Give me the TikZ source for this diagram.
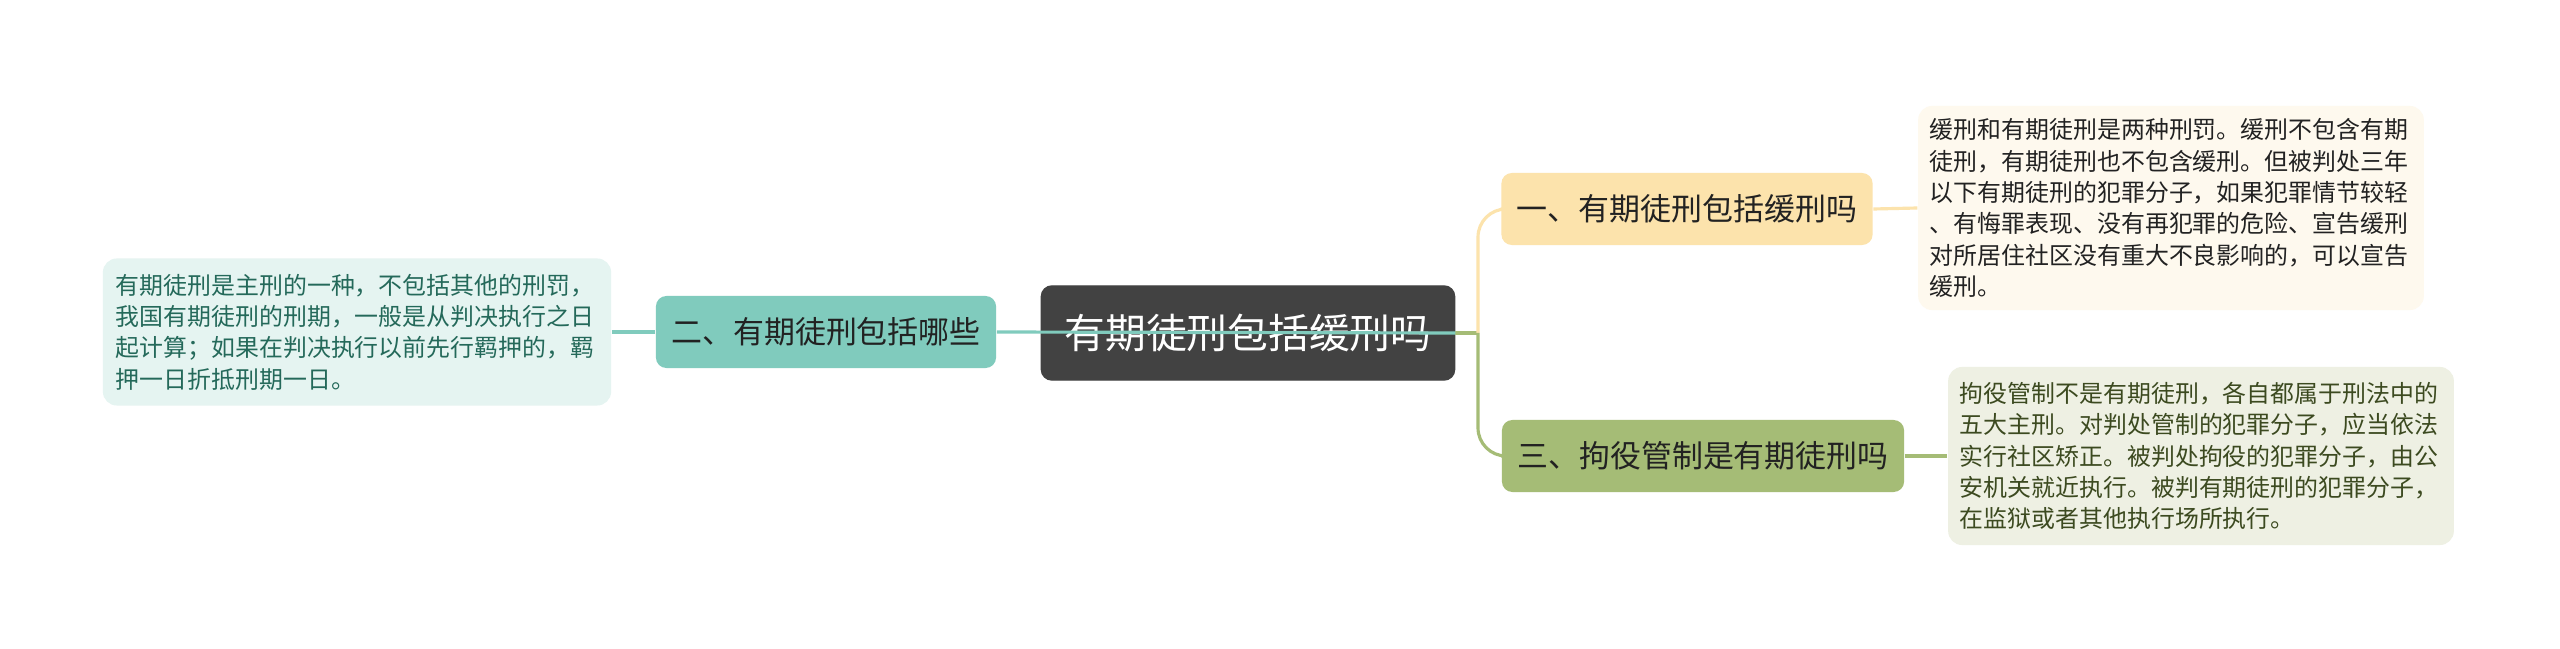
\documentclass[tikz,border=0pt]{standalone}
\usepackage{fontspec}
\setmainfont{Noto Sans CJK SC}
\usetikzlibrary{positioning}
\definecolor{rootgray}{RGB}{66, 66, 66}
\definecolor{tealline}{RGB}{128, 203, 189}
\definecolor{tealleaf}{RGB}{229, 244, 241}
\definecolor{tealtext}{RGB}{36, 105, 90}
\definecolor{yellowline}{RGB}{252, 227, 172}
\definecolor{yellowleaf}{RGB}{254, 249, 238}
\definecolor{greenline}{RGB}{165, 188, 118}
\definecolor{greenleaf}{RGB}{238, 240, 227}
\definecolor{greentext}{RGB}{60, 74, 32}
\definecolor{darktext}{RGB}{34, 34, 34}

\begin{document}
\begin{tikzpicture}[x=0.01cm, y=-0.01cm,
    rootbox/.style={draw=rootgray, fill=rootgray, rounded corners=3pt,
        minimum width=4.13cm, minimum height=0.94cm, text=white,
        font=\fontsize{11.6}{14}\selectfont},
    branch/.style={rounded corners=3pt, minimum height=0.72cm,
        text=darktext, font=\fontsize{8.8}{10}\selectfont},
    leaf/.style={rounded corners=4pt, align=left, text width=4.82cm,
        font=\fontsize{6.8}{8.9}\selectfont},
    link/.style={line width=0.9pt}
]
    \path[fill=white] (0,0) rectangle (2560,649);
    \useasboundingbox (0,0) rectangle (2560,649);

    \node[rootbox] (root) at (1248,333) {有期徒刑包括缓刑吗};

    \node[branch, fill=yellowline, minimum width=3.71cm] (b1) at (1687,209) {一、有期徒刑包括缓刑吗};
    \node[branch, fill=tealline, minimum width=3.40cm] (b2) at (826,332) {二、有期徒刑包括哪些};
    \node[branch, fill=greenline, minimum width=4.02cm] (b3) at (1703,456) {三、拘役管制是有期徒刑吗};

    \node[leaf, fill=yellowleaf, text=darktext, minimum width=5.04cm, minimum height=2.04cm] (l1) at (2171,208)
        {缓刑和有期徒刑是两种刑罚。缓刑不包含有期\\徒刑，有期徒刑也不包含缓刑。但被判处三年\\以下有期徒刑的犯罪分子，如果犯罪情节较轻\\、有悔罪表现、没有再犯罪的危险、宣告缓刑\\对所居住社区没有重大不良影响的，可以宣告\\缓刑。};
    \node[leaf, fill=tealleaf, text=tealtext, minimum width=5.08cm, minimum height=1.47cm] (l2) at (357,332)
        {有期徒刑是主刑的一种，不包括其他的刑罚，\\我国有期徒刑的刑期，一般是从判决执行之日\\起计算；如果在判决执行以前先行羁押的，羁\\押一日折抵刑期一日。};
    \node[leaf, fill=greenleaf, text=greentext, minimum width=5.05cm, minimum height=1.78cm] (l3) at (2201,456)
        {拘役管制不是有期徒刑，各自都属于刑法中的\\五大主刑。对判处管制的犯罪分子，应当依法\\实行社区矫正。被判处拘役的犯罪分子，由公\\安机关就近执行。被判有期徒刑的犯罪分子，\\在监狱或者其他执行场所执行。};

    \coordinate (fork) at (1478,333);
    \draw[link, greenline] (root.east) -- (fork);
    \draw[link, yellowline, rounded corners=8pt] (fork) |- (b1.west);
    \draw[link, greenline, rounded corners=8pt] (fork) |- (b3.west);
    \draw[link, tealline] (b2.east) -- (root.east);

    \draw[link, yellowline] (b1.east) -- (l1.west);
    \draw[link, tealline] (b2.west) -- (l2.east);
    \draw[link, greenline] (b3.east) -- (l3.west);
\end{tikzpicture}
\end{document}
